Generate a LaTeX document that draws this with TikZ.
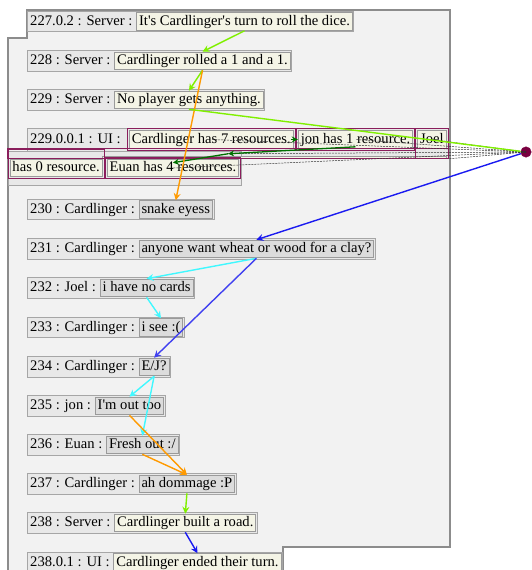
\documentclass[tikz,border=0pt]{standalone}
\usepackage{fontspec}
\setmainfont{Liberation Serif}
\usetikzlibrary{fit,arrows.meta,calc}
\pgfdeclarelayer{bglayer}
\pgfdeclarelayer{framelayer}
\pgfsetlayers{bglayer,framelayer,main}
\definecolor{bgfill}{HTML}{F2F2F2}
\definecolor{bgline}{HTML}{8C8C8C}
\definecolor{rowfill}{HTML}{E8E8E8}
\definecolor{rowline}{HTML}{A6A6A6}
\definecolor{srvfill}{HTML}{F4F4E6}
\definecolor{plyfill}{HTML}{DCDCDC}
\definecolor{msgline}{HTML}{9A9A9A}
\definecolor{limec}{HTML}{80F000}
\definecolor{orangec}{HTML}{FF9A00}
\definecolor{cyanc}{HTML}{40F8FF}
\definecolor{bluec}{HTML}{1A1AF0}
\definecolor{blueb}{HTML}{4040F0}
\definecolor{dgreenc}{HTML}{007000}
\definecolor{purpc}{HTML}{8A1E5C}
\definecolor{hubc}{HTML}{7A0040}
\begin{document}
\begin{tikzpicture}[x=1pt,y=-1pt,
  font=\fontsize{14.6}{17}\selectfont,
  lbl/.style={anchor=west, inner xsep=2pt, inner ysep=2pt, text height=10.5pt, text depth=3.5pt, text=black},
  msg/.style={anchor=west, draw=msgline, line width=1pt, inner xsep=2.5pt, inner ysep=1.8pt, text height=10.5pt, text depth=3.5pt, text=black},
  srv/.style={msg, fill=srvfill},
  ply/.style={msg, fill=plyfill},
  rowframe/.style={draw=rowline, fill=rowfill, line width=1pt, inner sep=1pt},
  purp/.style={draw=purpc, line width=1pt, inner sep=1.5pt},
  arr/.style={line width=1.4pt, -{Stealth[length=7pt,width=7pt,inset=2.5pt]}},
  dga/.style={draw=dgreenc, line width=1.3pt, -{Stealth[length=6pt,width=6pt,inset=2pt]}},
  dsh/.style={draw=black!80, line width=0.5pt, dash pattern=on 2pt off 1pt},
]
\useasboundingbox (0,0) rectangle (531,570);

% background shape
\begin{pgfonlayer}{bglayer}
\path[fill=bgfill, draw=bgline, line width=1.2pt]
  (27,10) -- (450,10) -- (450,547) -- (283,547) -- (283,580) -- (8,580) -- (8,38) -- (27,38) -- cycle;
\end{pgfonlayer}

% rows
\node[lbl] (l227) at (28,21.5) {227.0.2 : Server :};
\node[srv] (m227) at ([xshift=1.5pt]l227.east) {It\textquotesingle s Cardlinger\textquotesingle s turn to roll the dice.};

\node[lbl] (l228) at (28,61) {228 : Server :};
\node[srv] (m228) at ([xshift=1.5pt]l228.east) {Cardlinger rolled a 1 and a 1.};

\node[lbl] (l229) at (28,100) {229 : Server :};
\node[srv] (m229) at ([xshift=1.5pt]l229.east) {No player gets anything.};

\node[lbl] (l2291) at (28,139.5) {229.0.0.1 : UI :};
\node[srv] (c7) at ([xshift=6pt]l2291.east) {Cardlinger has 7 resources.};
\node[srv] (j1) at ([xshift=4pt]c7.east) {jon has 1 resource.};
\node[srv] (joel) at ([xshift=4pt]j1.east) {Joel};
\node[srv] (h0) at (9.5,168) {has 0 resource.};
\node[srv] (e4) at ([xshift=4pt]h0.east) {Euan has 4 resources.};

\node[lbl] (l230) at (28,209.5) {230 : Cardlinger :};
\node[ply] (m230) at ([xshift=1.5pt]l230.east) {snake eyess};

\node[lbl] (l231) at (28,249) {231 : Cardlinger :};
\node[ply] (m231) at ([xshift=1.5pt]l231.east) {anyone want wheat or wood for a clay?};

\node[lbl] (l232) at (28,288) {232 : Joel :};
\node[ply] (m232) at ([xshift=1.5pt]l232.east) {i have no cards};

\node[lbl] (l233) at (28,327.5) {233 : Cardlinger :};
\node[ply] (m233) at ([xshift=1.5pt]l233.east) {i see :(};

\node[lbl] (l234) at (28,367) {234 : Cardlinger :};
\node[ply] (m234) at ([xshift=1.5pt]l234.east) {E/J?};

\node[lbl] (l235) at (28,406) {235 : jon :};
\node[ply] (m235) at ([xshift=1.5pt]l235.east) {I\textquotesingle m out too};

\node[lbl] (l236) at (28,445) {236 : Euan :};
\node[ply] (m236) at ([xshift=1.5pt]l236.east) {Fresh out :/};

\node[lbl] (l237) at (28,484) {237 : Cardlinger :};
\node[ply] (m237) at ([xshift=1.5pt]l237.east) {ah dommage :P};

\node[lbl] (l238) at (28,523) {238 : Server :};
\node[srv] (m238) at ([xshift=1.5pt]l238.east) {Cardlinger built a road.};

\node[lbl] (l2381) at (28,562.5) {238.0.1 : UI :};
\node[srv] (m2381) at ([xshift=1.5pt]l2381.east) {Cardlinger ended their turn.};

% row frames
\begin{pgfonlayer}{framelayer}
\node[rowframe, fit=(l227)(m227)] (f227) {};
\node[rowframe, fit=(l228)(m228)] (f228) {};
\node[rowframe, fit=(l229)(m229)] (f229) {};
\path[rowframe] (27,128) rectangle (448,158);
\path[rowframe] (8,151) rectangle (241,185);
\node[rowframe, fit=(l230)(m230)] (f230) {};
\node[rowframe, fit=(l231)(m231)] (f231) {};
\node[rowframe, fit=(l232)(m232)] (f232) {};
\node[rowframe, fit=(l233)(m233)] (f233) {};
\node[rowframe, fit=(l234)(m234)] (f234) {};
\node[rowframe, fit=(l235)(m235)] (f235) {};
\node[rowframe, fit=(l236)(m236)] (f236) {};
\node[rowframe, fit=(l237)(m237)] (f237) {};
\node[rowframe, fit=(l238)(m238)] (f238) {};
\node[rowframe, fit=(l2381)(m2381)] (f2381) {};
\end{pgfonlayer}

% wrapped Joel item: connecting band
\coordinate (jb) at ([yshift=-8pt]joel.south);
\coordinate (ht) at ([yshift=8pt]h0.north);
\path[fill=srvfill, draw=msgline, line width=1pt] (h0.north east) rectangle (joel.south east |- jb);
\node[srv] (joel2) at (joel.west) {Joel};
\node[srv] (h02) at (h0.west) {has 0 resource.};

% purple outlines
\node[purp, fit=(c7)] (c7p) {};
\node[purp, fit=(j1)] (j1p) {};
\node[purp, fit=(joel2)(jb)] (joelp) {};
\node[purp, fit=(h02)(ht)] (h0p) {};
\node[purp, fit=(e4)] (e4p) {};
\draw[purpc, line width=1pt] (h0p.north west) rectangle (joelp.south east);
\coordinate (jc) at ($(h0p.north west)!0.5!(joelp.south east)$);

% hub
\node[circle, fill=hubc, draw=hubc, minimum size=10.5pt, inner sep=0pt] (hub) at (526,152) {};

% dashed lines from hub
\draw[dsh] (hub.center) -- (c7.center);
\draw[dsh] (hub.center) -- (j1.center);
\draw[dsh] (hub.center) -- (joel2.center);
\draw[dsh] (hub.center) -- (jc);
\draw[dsh] (hub.center) -- (e4.center);
\draw[dsh] (hub.center) -- (joelp.south east);

% dark green chain
\draw[dga] ([xshift=-3pt]c7.east) -- (j1.west);
\draw[dga] ([yshift=2pt]j1.south) -- (jc);
\draw[dga] (jc) -- ([yshift=-4pt]e4.north);

% connectors
\draw[arr, limec] (m227.south) -- (m228.north);
\draw[arr, limec] (m228.south) -- (m229.north);
\draw[arr, orangec] (m228.south) -- (m230.north);
\draw[line width=1.4pt, limec] (m229.south) -- (hub);
\draw[arr, bluec] (hub) -- (m231.north);
\draw[arr, cyanc] (m231.south) -- (m232.north);
\draw[arr, cyanc] (m232.south) -- (m233.north);
\draw[arr, blueb] (m231.south) -- (m234.north);
\draw[arr, cyanc] (m234.south) -- (m235.north);
\draw[arr, cyanc] (m234.south) -- (m236.north);
\draw[arr, orangec] (m235.south) -- (m237.north);
\draw[arr, orangec] (m236.south) -- (m237.north);
\draw[arr, limec] (m237.south) -- (m238.north);
\draw[arr, bluec] (m238.south) -- (m2381.north);
\end{tikzpicture}
\end{document}
